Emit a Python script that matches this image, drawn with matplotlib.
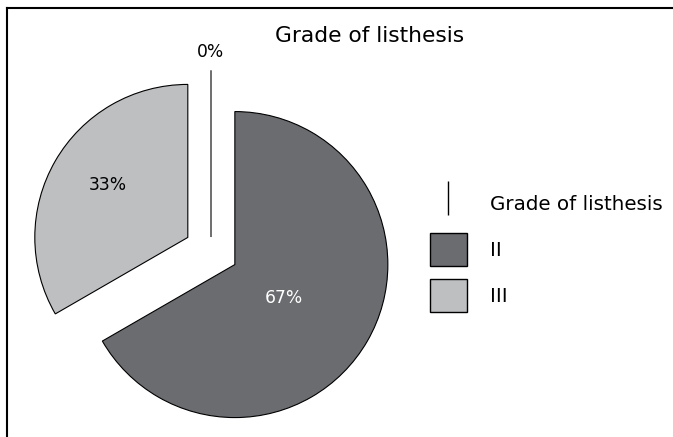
import matplotlib
matplotlib.use("Agg")
import matplotlib.pyplot as plt
from matplotlib.patches import Patch
from matplotlib.lines import Line2D

# data
grades = ["I", "II", "III"]
counts = [0, 2, 1]
colors = ["#6b6c70", "#6b6c70", "#bebfc1"]
explode = [0.09, 0.18, 0.175]
pct_labels = ["0%", "67%", "33%"]

W, H = 673, 437
fig = plt.figure(figsize=(W / 100, H / 100), dpi=100)
ax = fig.add_axes([0, 0, 1, 1])

wedges, _ = ax.pie(counts, colors=colors, explode=explode, startangle=90,
                   counterclock=False, radius=1.0,
                   wedgeprops=dict(edgecolor="black", linewidth=0.8))
# the empty slice is only a line, a bit longer in the original
wedges[0].set_radius(1.09)

# one data unit = pie radius = 153 px, pie centre at pixel (211, 186 from bottom)
r_px = 153.0
cx, cy = 211.0, 186.2
ax.set_xlim(-cx / r_px, (W - cx) / r_px)
ax.set_ylim(-cy / r_px, (H - cy) / r_px)
ax.set_aspect("equal")
ax.axis("off")

# percentage labels, placed per slice
lab_pos = [(0.0, 1.30), (0.477, -0.31), (-0.673, 0.43)]
lab_col = ["black", "white", "black"]
for txt, (x, y), c in zip(pct_labels, lab_pos, lab_col):
    ax.text(x, y, txt, ha="center", va="center", fontsize=12.3, color=c)

fig.text(370 / W, 1 - 42.3 / H, "Grade of listhesis", ha="center", va="baseline",
         fontsize=15.7)

# legend
fs = 14.3
fs_px = fs * 100 / 72
handles = [Line2D([], [], color="black", lw=0, marker="|", markersize=24,
                  markeredgewidth=1.0),
           Patch(facecolor=colors[1], edgecolor="black", linewidth=1.0),
           Patch(facecolor=colors[2], edgecolor="black", linewidth=1.0)]
labels = ["Grade of listhesis", grades[1], grades[2]]
fig.legend(handles, labels, loc="upper left",
           bbox_to_anchor=(430 / W, 1 - 187 / H),
           frameon=False, fontsize=fs, handlelength=37 / fs_px,
           handleheight=2.18, handletextpad=23 / fs_px,
           labelspacing=13 / fs_px, borderpad=0, borderaxespad=0)

# frame: top and left lines only
fig.add_artist(Line2D([7 / W, 1], [1 - 8 / H, 1 - 8 / H], color="black", lw=1.5))
fig.add_artist(Line2D([7 / W, 7 / W], [0, 1 - 8 / H], color="black", lw=1.5))

fig.savefig("out.png", dpi=100)
